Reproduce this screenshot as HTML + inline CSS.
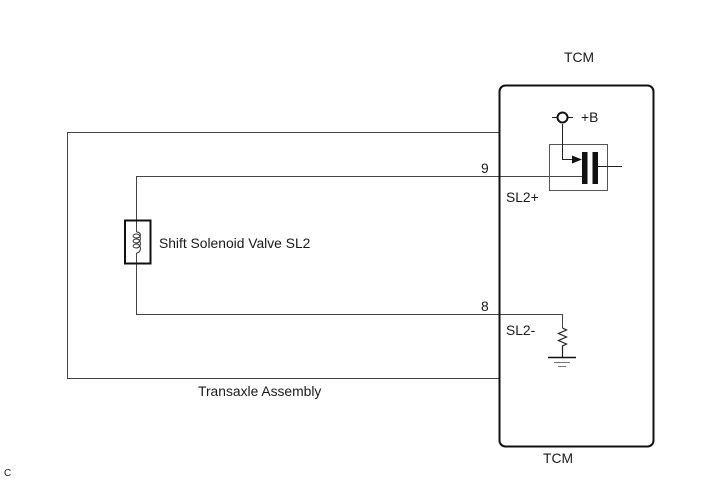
<!DOCTYPE html>
<html>
<head>
<meta charset="utf-8">
<style>
html,body{margin:0;padding:0;background:#fff;}
svg{display:block;}
text{font-family:"Liberation Sans",sans-serif;font-size:13.85px;fill:#1a1a1a;}
</style>
</head>
<body>
<svg width="713" height="481" viewBox="0 0 713 481" xmlns="http://www.w3.org/2000/svg">
<rect width="713" height="481" fill="#fff"/>
<g fill="none" stroke="#444" stroke-width="1">
<polyline points="499.5,132.5 67.5,132.5 67.5,378.5 499.5,378.5"/>
<polyline points="582,176.5 136.5,176.5 136.5,221"/>
<polyline points="136.5,264 136.5,314.5 562.5,314.5 562.5,328"/>
<rect x="549.5" y="144.5" width="58" height="46" stroke="#555"/>
<polyline points="562.5,124 562.5,159.5 573,159.5" stroke="#222"/>
<line x1="598" y1="166.5" x2="622" y2="166.5" stroke="#222"/>
<line x1="552" y1="117.5" x2="573" y2="117.5" stroke="#222"/>
<line x1="136.5" y1="221" x2="136.5" y2="232" stroke="#444"/>
<line x1="136.5" y1="253" x2="136.5" y2="264" stroke="#444"/>
<polyline points="562.5,328 566.5,330 558.5,333.5 566.5,337 558.5,340.5 566.5,344 562.5,346 562.5,357" stroke="#222" stroke-width="1.2"/>
<path d="M136.5 232 C142 232,141.5 238,136.5 238 C132 238,132 234,136.5 234 C142 234,141.5 243,136.5 243 C132 243,132 239,136.5 239 C142 239,141.5 248,136.5 248 C132 248,132 244,136.5 244 C142 244,141.5 253,136.5 253" stroke="#333"/>
</g>
<rect x="499.5" y="85.5" width="154" height="361" rx="6" ry="6" fill="none" stroke="#111" stroke-width="2"/>
<rect x="125" y="220.5" width="25.5" height="43" fill="none" stroke="#111" stroke-width="2"/>
<circle cx="562.5" cy="117.5" r="5" fill="#fff" stroke="#111" stroke-width="2"/>
<polygon points="572,155.5 582,159.5 572,163.5" fill="#111"/>
<rect x="582" y="152" width="5.5" height="32" fill="#111"/>
<rect x="592.5" y="152" width="5.5" height="32" fill="#111"/>
<line x1="548" y1="357.5" x2="576" y2="357.5" stroke="#111" stroke-width="1.5"/>
<line x1="554" y1="362.5" x2="570" y2="362.5" stroke="#777" stroke-width="1"/>
<line x1="558" y1="366.5" x2="566" y2="366.5" stroke="#777" stroke-width="1"/>
<text x="564" y="62">TCM</text>
<text x="581" y="122">+B</text>
<text x="481" y="173">9</text>
<text x="506" y="202">SL2+</text>
<text x="159" y="248">Shift Solenoid Valve SL2</text>
<text x="481" y="311">8</text>
<text x="506" y="335">SL2-</text>
<text x="198" y="396">Transaxle Assembly</text>
<text x="543" y="463">TCM</text>
<text x="4" y="476" style="font-size:10px">C</text>
</svg>
</body>
</html>
